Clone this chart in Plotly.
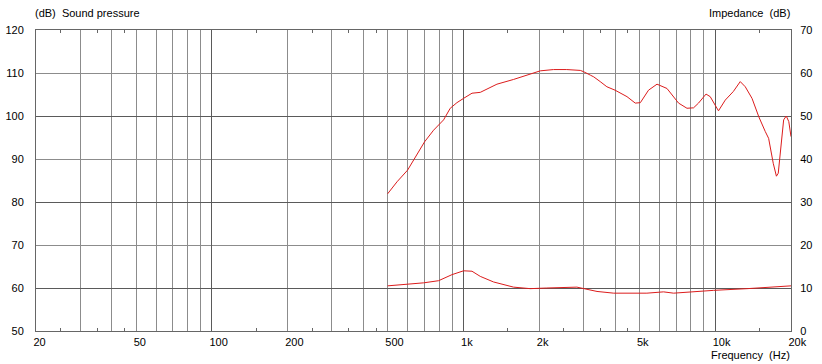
import math
import plotly.graph_objects as go

# ---- data ----
spl_freq = [499, 544, 599, 653, 700, 760, 833, 885, 941, 1000, 1080, 1165, 1239, 1357,
            1580, 1785, 2017, 2277, 2570, 2910, 3000, 3190, 3290, 3490, 3710, 4000, 4460,
            4810, 5040, 5430, 5870, 6430, 7150, 7720, 8200, 8580, 9190, 9550, 10300, 10960,
            11800, 12570, 13160, 14000, 14900, 15800, 16300, 17000, 17500, 17800, 18300,
            18700, 19150, 19600, 20000]
spl_db = [81.9, 84.7, 87.4, 90.9, 94.0, 96.7, 99.1, 101.8, 103.1, 104.1, 105.3, 105.5, 106.3, 107.4,
          108.5, 109.5, 110.5, 110.8, 110.8, 110.6, 110.3, 109.5, 109.1, 108.0, 106.8, 106.0, 104.5,
          103.0, 103.1, 106.0, 107.4, 106.4, 103.0, 101.8, 101.9, 103.0, 105.1, 104.5, 101.2, 103.7,
          105.7, 108.0, 106.8, 104.1, 99.8, 96.4, 94.8, 89.0, 86.0, 86.7, 94.4,
          99.1, 100.0, 98.7, 95.2]

imp_freq = [499, 596, 694, 796, 899, 1000, 1080, 1165, 1316, 1580, 1840, 2140, 2820, 3390,
            3950, 5350, 6230, 6830, 8450, 9840, 13400, 16600, 20000]
imp_db = [10.5, 10.9, 11.2, 11.7, 13.1, 14.0, 13.9, 12.7, 11.4, 10.2, 9.85, 10.0, 10.2, 9.2,
          8.8, 8.8, 9.1, 8.8, 9.2, 9.45, 9.85, 10.2, 10.5]

x_label_vals = [20, 50, 100, 200, 500, 1000, 2000, 5000, 10000, 20000]
x_label_text = ["20", "50", "100", "200", "500", "1k", "2k", "5k", "10k", "20k"]
x_grid_light = [30, 40, 50, 60, 70, 80, 90, 200, 300, 400, 500, 600, 700, 800, 900,
                2000, 3000, 4000, 5000, 6000, 7000, 8000, 9000]
x_grid_dark = [100, 1000, 10000]
x_half_ticks = [25, 35, 45, 150, 250, 350, 450, 1500, 2500, 3500, 4500, 15000]

y_left_vals = [50, 60, 70, 80, 90, 100, 110, 120]
y_right_vals = [0, 10, 20, 30, 40, 50, 60, 70]
y_grid_light = [70, 90, 110]
y_grid_dark = [60, 80, 100]

RED = "#dc1c1c"
LIGHT = "#8c8c8c"
DARK = "#5a5a5a"
FRAME = "#666666"
FONT = "Liberation Sans, Arial, sans-serif"

fig = go.Figure()
fig.add_trace(go.Scatter(x=spl_freq, y=spl_db, mode="lines", line=dict(color=RED, width=1),
                         xaxis="x", yaxis="y", hoverinfo="skip", showlegend=False))
fig.add_trace(go.Scatter(x=imp_freq, y=imp_db, mode="lines", line=dict(color=RED, width=1),
                         xaxis="x", yaxis="y2", hoverinfo="skip", showlegend=False))
fig.add_trace(go.Scatter(x=[], y=[], mode="lines", xaxis="x3", yaxis="y3",
                         hoverinfo="skip", showlegend=False))
fig.add_trace(go.Scatter(x=[], y=[], mode="lines", xaxis="x4", yaxis="y",
                         hoverinfo="skip", showlegend=False))

xr = [math.log10(20), math.log10(20000)]

fig.update_layout(
    width=822, height=364,
    margin=dict(l=36, r=31, t=30, b=33, autoexpand=False),
    paper_bgcolor="white", plot_bgcolor="white",
    font=dict(family=FONT, size=11, color="black"),
    xaxis=dict(type="log", range=xr, tickmode="array", tickvals=x_label_vals, ticktext=x_label_text,
               ticks="", showgrid=False, showline=True, linecolor=FRAME, linewidth=1, mirror=True,
               ticklabelposition="outside right", tickfont=dict(size=11, color="black"),
               ticklabelstandoff=1, ticklabelshift=-3, automargin=False,
               minor=dict(tickmode="array", tickvals=x_grid_light, showgrid=True, gridcolor=LIGHT,
                          gridwidth=1, ticks=""),
               zeroline=False),
    xaxis3=dict(type="log", range=xr, overlaying="x", anchor="y3", tickmode="array",
                tickvals=x_grid_dark, showticklabels=False, ticks="",
                showgrid=True, gridcolor=DARK, gridwidth=1, automargin=False, zeroline=False),
    xaxis4=dict(type="log", range=xr, overlaying="x", anchor="y", tickmode="array",
                tickvals=x_half_ticks, showticklabels=False, ticks="inside", ticklen=3,
                tickcolor=FRAME, tickwidth=1, showgrid=False, showline=True, linecolor=FRAME,
                mirror="ticks", automargin=False, zeroline=False),
    yaxis=dict(range=[50, 120], tickmode="array", tickvals=y_left_vals, ticks="", showgrid=False,
               showline=True, linecolor=FRAME, linewidth=1, mirror=True, zeroline=False,
               tickfont=dict(size=11, color="black"), ticklabelstandoff=9, automargin=False,
               minor=dict(tickmode="array", tickvals=y_grid_light, showgrid=True, gridcolor=LIGHT,
                          gridwidth=1, ticks="")),
    yaxis2=dict(range=[0, 70], overlaying="y", side="right", anchor="x", tickmode="array",
                tickvals=y_right_vals, ticks="", showgrid=False, showline=True, linecolor=FRAME,
                zeroline=False, tickfont=dict(size=11, color="black"), ticklabelstandoff=6,
                automargin=False),
    yaxis3=dict(range=[50, 120], overlaying="y", anchor="x3", tickmode="array",
                tickvals=y_grid_dark, showticklabels=False, ticks="", showgrid=True,
                gridcolor=DARK, gridwidth=1, zeroline=False, automargin=False),
    annotations=[
        dict(text="(dB)\u00a0 Sound pressure", xref="paper", yref="paper", x=0, y=1,
             xanchor="left", yanchor="middle", yshift=17, xshift=-3, showarrow=False,
             font=dict(size=11, color="black")),
        dict(text="Impedance\u00a0 (dB)", xref="paper", yref="paper", x=1, y=1,
             xanchor="right", yanchor="middle", yshift=17, xshift=1, showarrow=False,
             font=dict(size=11, color="black")),
        dict(text="Frequency\u00a0 (Hz)", xref="paper", yref="paper", x=1, y=0,
             xanchor="right", yanchor="middle", yshift=-24, xshift=1, showarrow=False,
             font=dict(size=11, color="black")),
    ],
)

fig.write_html("out.html")
